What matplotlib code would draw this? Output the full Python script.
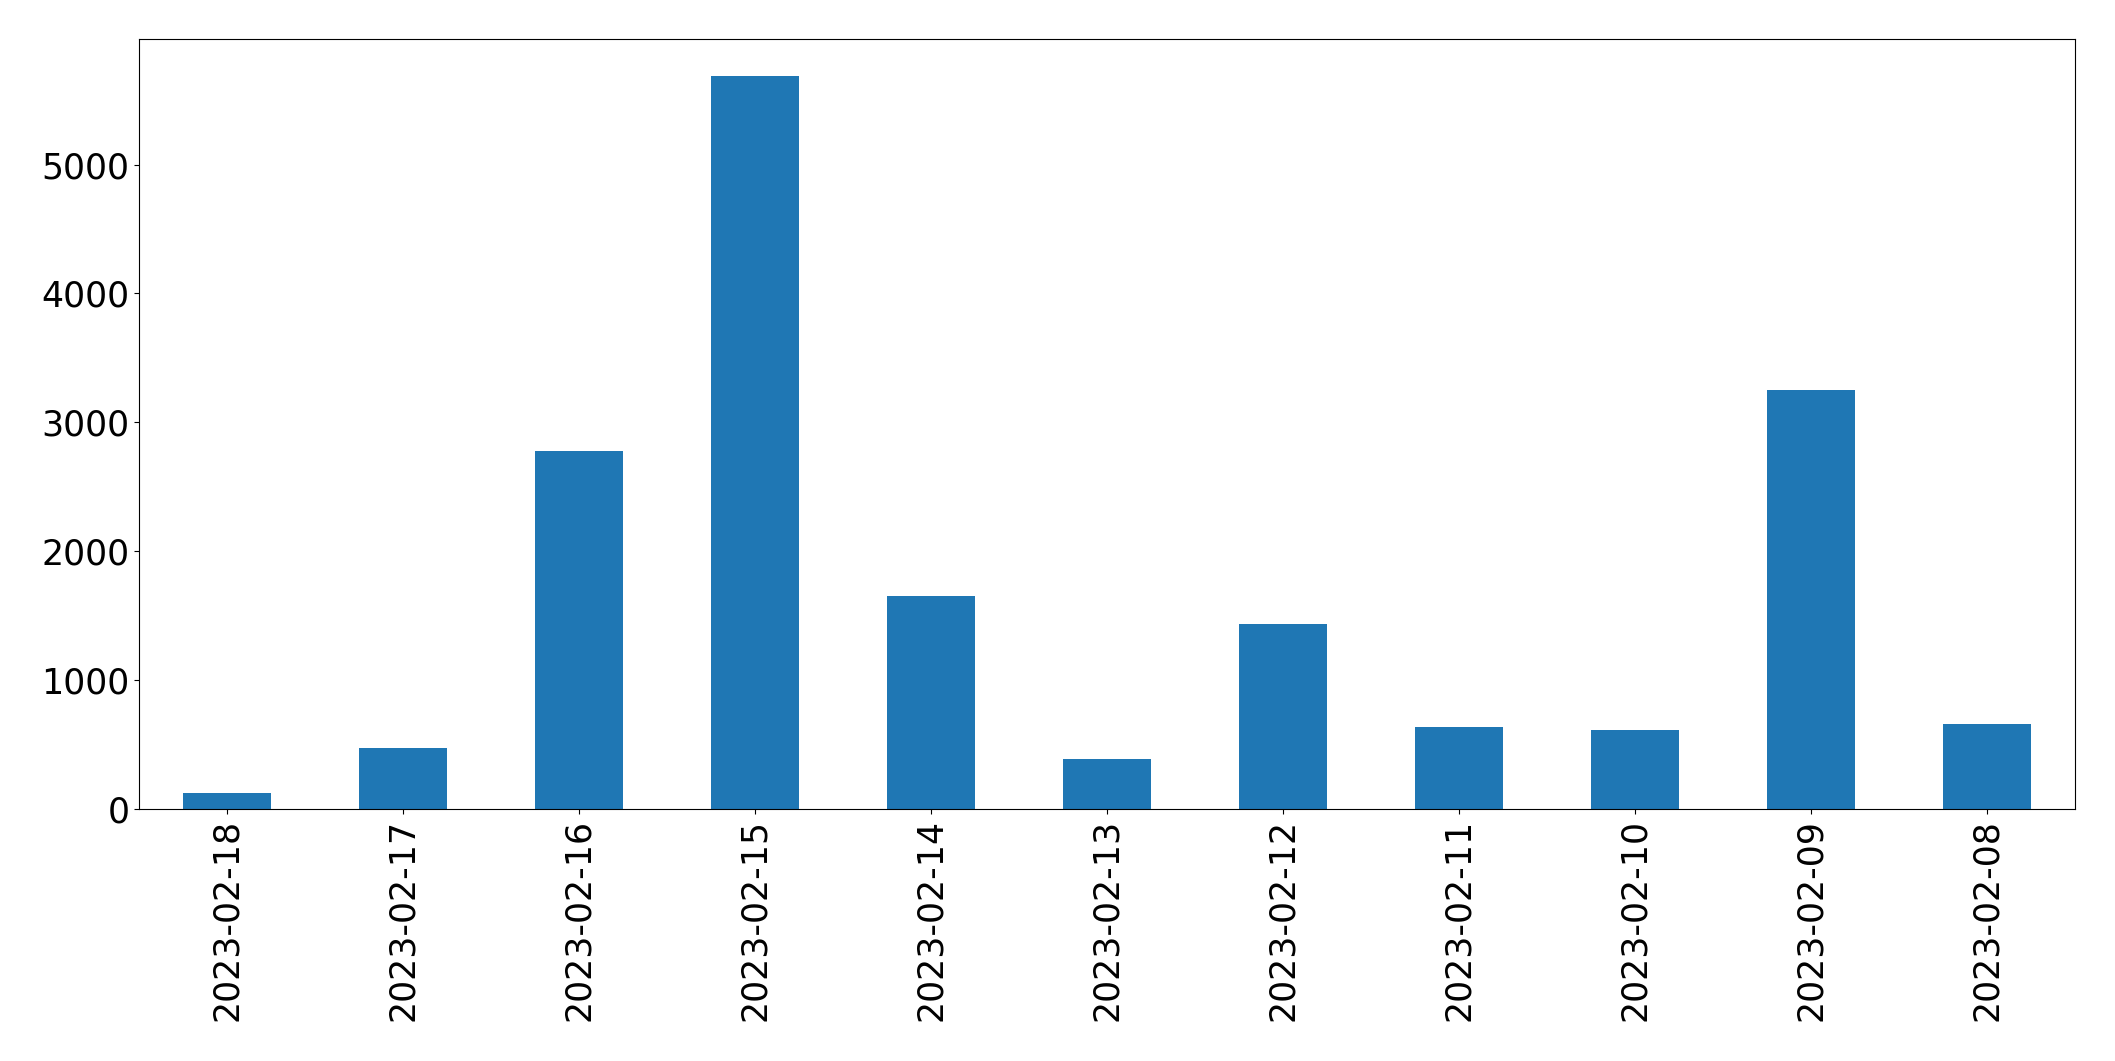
import matplotlib
matplotlib.use("Agg")
import matplotlib.pyplot as plt
import numpy as np

dates = ["2023-02-18", "2023-02-17", "2023-02-16", "2023-02-15", "2023-02-14",
         "2023-02-13", "2023-02-12", "2023-02-11", "2023-02-10", "2023-02-09",
         "2023-02-08"]
counts = [124, 473, 2778, 5687, 1655, 388, 1435, 636, 613, 3251, 660]

fig = plt.figure(figsize=(21.15, 10.61), dpi=100)
ax = fig.add_axes([139/2115, 1 - 809/1061, (2075-139)/2115, (809-39.3)/1061])
x = np.arange(len(dates))
ax.bar(x, counts, width=0.5, color="#1f77b4")
ax.set_xlim(-0.5, len(dates) - 0.5)
ax.set_ylim(0, max(counts) * 1.05)
ax.set_xticks(x)
ax.set_xticklabels(dates, rotation=90)
ax.tick_params(axis="both", labelsize=25)
fig.savefig("out.png", dpi=100)
